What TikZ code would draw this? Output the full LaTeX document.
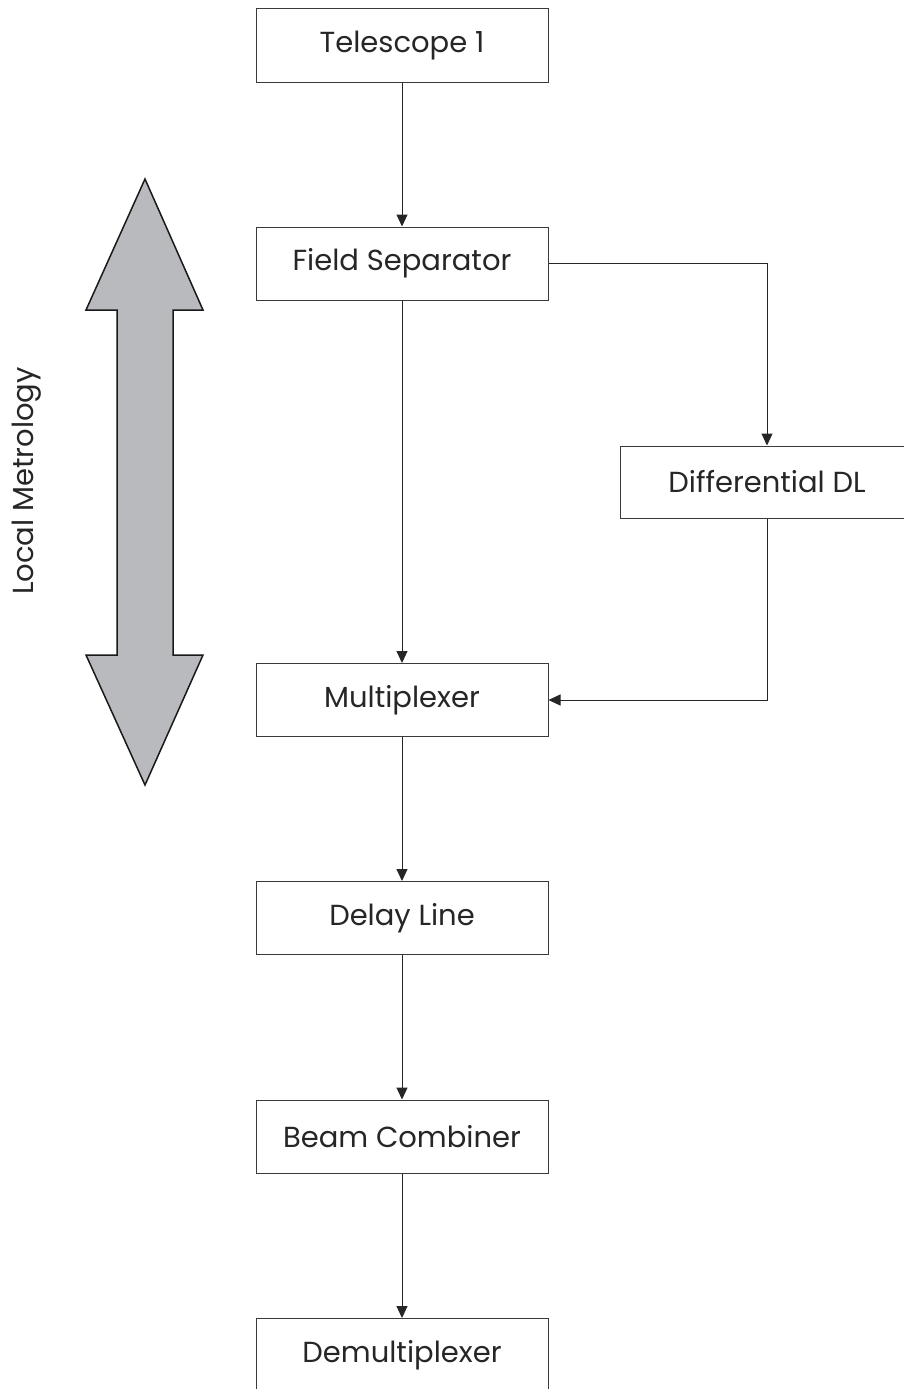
\documentclass[tikz,border=0pt]{standalone}
\usepackage{fontspec}
\setmainfont{Poppins}
\usetikzlibrary{arrows.meta}
\definecolor{boxline}{HTML}{3A3A3A}
\definecolor{arrowfill}{HTML}{B9BABE}
\tikzset{
  stage/.style={draw=boxline, line width=1pt, minimum width=292pt, minimum height=73pt,
    inner sep=0pt, font=\fontsize{29}{32}\selectfont, text=black!85},
  link/.style={draw=black!85, line width=1pt, -{Triangle[length=12pt,width=11pt]}},
}
\begin{document}
\begin{tikzpicture}[x=1pt,y=-1pt]
\useasboundingbox (0,0) rectangle (904,1389);
% double arrow
\draw[fill=arrowfill, draw=black!90, line width=1.5pt, line join=miter]
  (145,179) -- (203,310) -- (173,310) -- (173,655) -- (203,655) -- (145,785)
  -- (86,655) -- (117,655) -- (117,310) -- (86,310) -- cycle;
\node[rotate=90, font=\fontsize{29}{32}\selectfont, text=black!85] (lm) at (27,481) {Local Metrology};
% boxes
\node[stage] (t1) at (402,45.5) {Telescope 1};
\node[stage] (fs) at (402,263.5) {Field Separator};
\node[stage] (mx) at (402,700) {Multiplexer};
\node[stage] (dl) at (402,918) {Delay Line};
\node[stage] (bc) at (402,1136.5) {Beam Combiner};
\node[stage] (dm) at (402,1355) {Demultiplexer};
\node[stage, minimum width=294pt, minimum height=72pt] (dd) at (767,482) {Differential DL};
% connectors
\draw[link] (t1.south) -- (fs.north);
\draw[link] (fs.south) -- (mx.north);
\draw[link] (fs.east) -| (dd.north);
\draw[link] (dd.south) |- (mx.east);
\draw[link] (mx.south) -- (dl.north);
\draw[link] (dl.south) -- (bc.north);
\draw[link] (bc.south) -- (dm.north);
\end{tikzpicture}
\end{document}
